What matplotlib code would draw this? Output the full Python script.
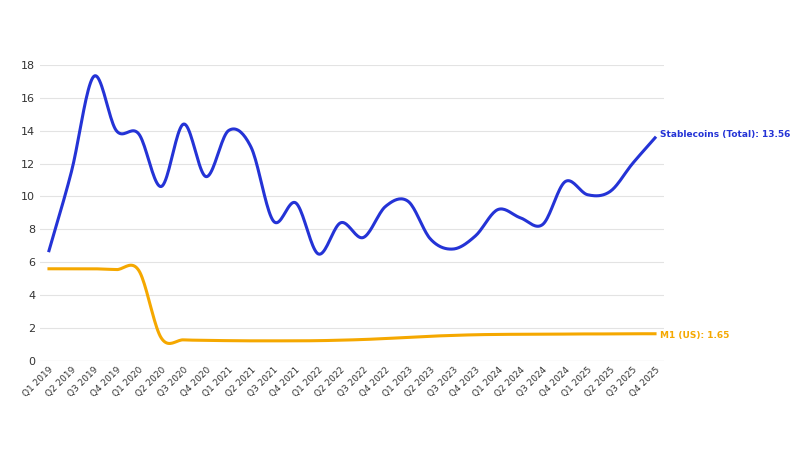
import matplotlib
matplotlib.use("Agg")
import matplotlib.pyplot as plt
import numpy as np

quarters = [f"Q{q} {y}" for y in range(2019, 2026) for q in range(1, 5)]
stablecoins = [6.7, 11.5, 17.3, 14.0, 13.8, 10.6, 14.4, 11.2, 14.0, 13.0, 8.5, 9.6,
               6.5, 8.4, 7.5, 9.4, 9.7, 7.4, 6.8, 7.6, 9.2, 8.7, 8.3, 10.9,
               10.1, 10.3, 12.0, 13.56]
m1 = [5.6, 5.6, 5.6, 5.55, 5.5, 1.4, 1.28, 1.25, 1.23, 1.22, 1.22, 1.22,
      1.23, 1.26, 1.3, 1.36, 1.43, 1.5, 1.55, 1.59, 1.61, 1.62, 1.63, 1.63,
      1.64, 1.64, 1.65, 1.65]

def smooth(y, n=20):
    y = np.asarray(y, float)
    p = np.concatenate([[2*y[0]-y[1]], y, [2*y[-1]-y[-2]]])
    xs, ys = [], []
    for i in range(len(y)-1):
        p0, p1, p2, p3 = p[i], p[i+1], p[i+2], p[i+3]
        t = np.linspace(0, 1, n, endpoint=False)
        v = 0.5*((2*p1) + (-p0+p2)*t + (2*p0-5*p1+4*p2-p3)*t**2 + (-p0+3*p1-3*p2+p3)*t**3)
        xs.append(i+t); ys.append(v)
    xs.append([len(y)-1]); ys.append([y[-1]])
    return np.concatenate(xs), np.concatenate(ys)

fig = plt.figure(figsize=(8, 4.5), dpi=100)
ax = fig.add_axes([0.05, 0.198, 0.78, 0.658])
blue, orange = "#2433d6", "#f5a800"
x, yb = smooth(stablecoins)
ax.plot(x, yb, color=blue, lw=2.2)
x, yo = smooth(m1)
ax.plot(x, yo, color=orange, lw=2.2)
ax.set_ylim(0, 18)
ax.set_yticks(range(0, 19, 2))
ax.set_xlim(-0.4, len(quarters)-0.6)
ax.set_xticks(range(len(quarters)))
ax.set_xticklabels(quarters, rotation=45, ha="right", rotation_mode="anchor", fontsize=6.5, color="#333333")
ax.tick_params(axis="y", labelsize=8, colors="#333333", length=0)
ax.tick_params(axis="x", length=0, pad=3)
ax.grid(axis="y", color="#e3e3e3", lw=0.8)
ax.set_axisbelow(True)
for s in ax.spines.values():
    s.set_visible(False)
ax.axhline(0, color="#cccccc", lw=0.8)
n = len(quarters) - 1
ax.text(n+0.2, stablecoins[-1]+0.2, f"Stablecoins (Total): {stablecoins[-1]}", color=blue,
        fontsize=6.5, fontweight="bold", va="center", clip_on=False)
ax.text(n+0.2, m1[-1]-0.1, f"M1 (US): {m1[-1]}", color=orange,
        fontsize=6.5, fontweight="bold", va="center", clip_on=False)
fig.savefig("out.png")
